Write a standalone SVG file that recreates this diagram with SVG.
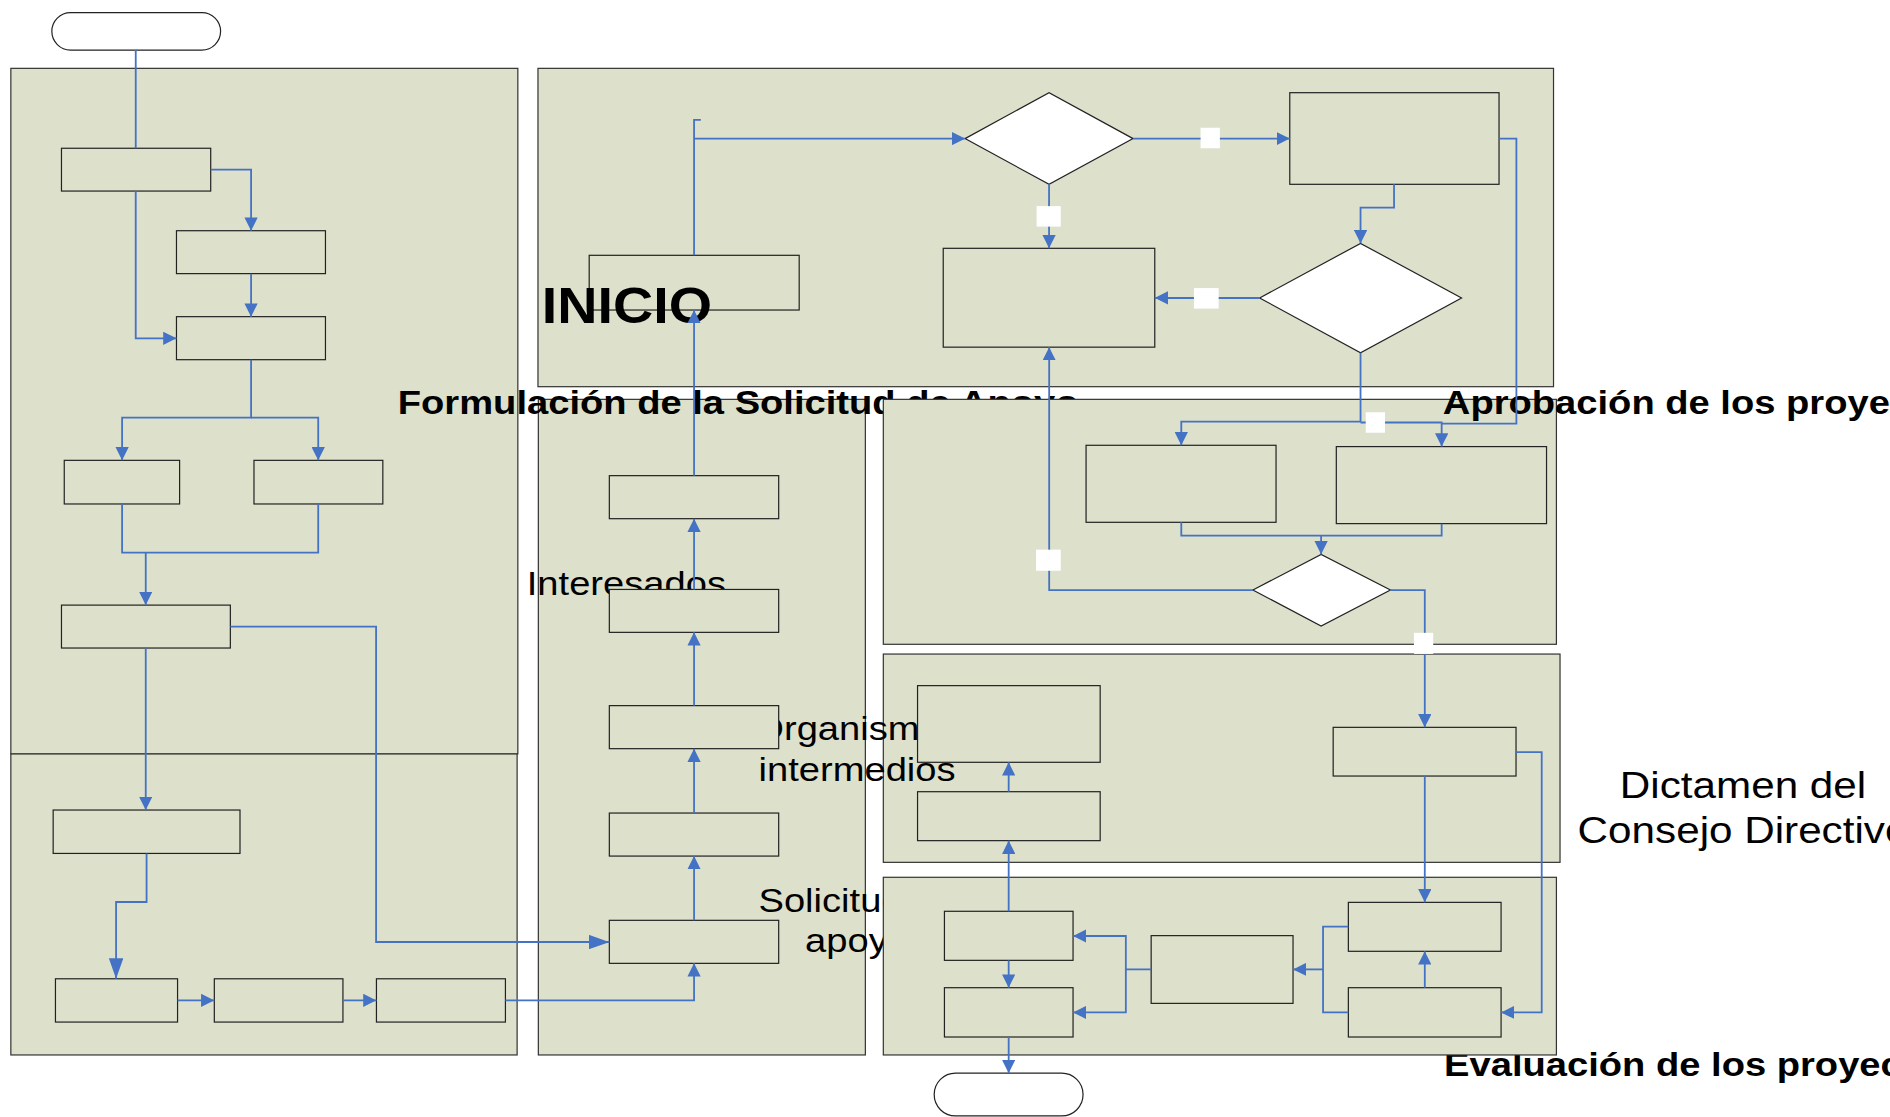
<svg xmlns="http://www.w3.org/2000/svg" width="1890" height="1117" viewBox="0 0 1890 1117">
<style>
.lane{fill:#dde1cc;stroke:#333;stroke-width:1}
.box{fill:#dde1cc;stroke:#222;stroke-width:1}
.dia{fill:#fff;stroke:#222;stroke-width:1}
.term{fill:#fff;stroke:#222;stroke-width:1}
.c{fill:none;stroke:#4472c4;stroke-width:1.5;marker-end:url(#a)}
.cb{fill:none;stroke:#4472c4;stroke-width:1.5;marker-end:url(#A)}
.cn{fill:none;stroke:#4472c4;stroke-width:1.5}
.lbl{fill:#fff}
.tb{font-family:"Liberation Sans",Arial,sans-serif;font-weight:bold;font-size:28px;fill:#000}
.tr{font-family:"Liberation Sans",Arial,sans-serif;font-size:28px;fill:#000}
</style>
<defs>
<marker id="a" markerUnits="userSpaceOnUse" viewBox="0 0 11 11" markerWidth="11" markerHeight="11" refX="11" refY="5.5" orient="auto"><path d="M0,0 L11,5.5 L0,11 z" fill="#4472c4"/></marker>
<marker id="A" markerUnits="userSpaceOnUse" viewBox="0 0 17 12" markerWidth="17" markerHeight="12" refX="17" refY="6" orient="auto"><path d="M0,0 L17,6 L0,12 z" fill="#4472c4"/></marker>
</defs>
<rect width="1890" height="1117" fill="#fff"/>
<g transform="scale(1.2054)">
<g id="lanes1">
<rect id="lane-left-top" class="lane" x="9" y="56.7" width="420.6" height="568.8"/>
<rect id="lane-left-bottom" class="lane" x="9" y="625.5" width="420" height="249.7"/>
<rect id="lane-top" class="lane" x="446.3" y="56.7" width="842.5" height="264.1"/>
<rect id="lane-middle" class="lane" x="446.6" y="331.3" width="271.3" height="543.9"/>
</g>
<text class="tb" transform="translate(330,343.5) scale(1.13,1)">Formulación de la Solicitud de Apoyo</text>
<g id="lanes2">
<rect id="lane-aprobacion" class="lane" x="732.8" y="331.3" width="558.4" height="203.2"/>
<rect id="lane-dictamen" class="lane" x="732.8" y="542.6" width="561.4" height="172.8"/>
</g>
<text class="tr" text-anchor="middle" transform="translate(711,614) scale(1.13,1)"><tspan x="0" y="0">Organismos</tspan><tspan x="0" y="33.7">intermedios</tspan></text>
<text class="tb" transform="translate(1197,343.5) scale(1.13,1)">Aprobación de los proyectos</text>
<text class="tr" text-anchor="middle" transform="translate(711,756.3) scale(1.13,1)"><tspan x="0" y="0">Solicitud de</tspan><tspan x="0" y="33.2">apoyo</tspan></text>
<text class="tb" transform="translate(1198,892.6) scale(1.13,1)">Evaluación de los proyectos</text>
<g id="lanes3">
<rect id="lane-evaluacion" class="lane" x="732.8" y="727.8" width="558.4" height="147.4"/>
</g>
<text class="tr" transform="translate(437,493.6) scale(1.13,1)">Interesados</text>
<text class="tr" text-anchor="middle" style="font-size:31px" transform="translate(1446,662) scale(1.13,1)"><tspan x="0" y="0">Dictamen del</tspan><tspan x="0" y="37">Consejo Directivo</tspan></text>
<g id="nodes">
<g id="start"><rect class="term" x="43" y="10.5" width="140" height="31" rx="15.5"/></g>
<g id="n-a"><rect class="box" x="51" y="123" width="123.8" height="35.5"/></g>
<g id="n-b"><rect class="box" x="146.4" y="191.4" width="123.6" height="35.6"/></g>
<g id="n-c"><rect class="box" x="146.4" y="262.7" width="123.6" height="35.7"/></g>
<g id="n-d"><rect class="box" x="53.3" y="381.9" width="95.7" height="36.2"/></g>
<g id="n-e"><rect class="box" x="210.7" y="381.9" width="106.9" height="36.2"/></g>
<g id="n-f"><rect class="box" x="51" y="502" width="140.1" height="35.6"/></g>
<g id="n-g"><rect class="box" x="44.1" y="672" width="155" height="36"/></g>
<g id="n-h"><rect class="box" x="46" y="812" width="101.3" height="35.9"/></g>
<g id="n-i"><rect class="box" x="177.8" y="812" width="106.7" height="35.9"/></g>
<g id="n-j"><rect class="box" x="312.3" y="812" width="107" height="35.9"/></g>
<g id="n-k"><rect class="box" x="505.5" y="763.5" width="140.5" height="35.7"/></g>
<g id="n-l"><rect class="box" x="505.5" y="674.5" width="140.5" height="35.7"/></g>
<g id="n-m"><rect class="box" x="505.5" y="585.4" width="140.5" height="35.7"/></g>
<g id="n-n"><rect class="box" x="505.5" y="489" width="140.5" height="35.6"/></g>
<g id="n-o"><rect class="box" x="505.5" y="394.6" width="140.5" height="35.7"/></g>
<g id="n-p"><rect class="box" x="488.8" y="211.8" width="174.2" height="45.4"/></g>
<g id="d-1"><polygon class="dia" points="800.6,115 870.3,76.9 940,115 870.3,152.9"/></g>
<g id="n-r"><rect class="box" x="1070" y="76.9" width="173.6" height="76"/></g>
<g id="n-s"><rect class="box" x="782.5" y="206" width="175.5" height="82"/></g>
<g id="d-2"><polygon class="dia" points="1045,247.2 1128.7,201.9 1212.5,247.2 1128.7,292.6"/></g>
<g id="n-t"><rect class="box" x="901" y="369.4" width="157.6" height="63.9"/></g>
<g id="n-u"><rect class="box" x="1108.6" y="370.5" width="174.4" height="63.9"/></g>
<g id="d-3"><polygon class="dia" points="1039.4,489.5 1096,459.9 1153.5,489.5 1096,519.3"/></g>
<g id="n-v"><rect class="box" x="761.2" y="568.8" width="151.5" height="63.6"/></g>
<g id="n-w"><rect class="box" x="761.2" y="656.8" width="151.5" height="40.6"/></g>
<g id="n-x"><rect class="box" x="1106" y="603.4" width="151.7" height="40.4"/></g>
<g id="n-y1"><rect class="box" x="783.5" y="756" width="106.7" height="40.7"/></g>
<g id="n-y2"><rect class="box" x="783.5" y="819.4" width="106.7" height="40.9"/></g>
<g id="n-z"><rect class="box" x="955" y="776.2" width="117.7" height="56.2"/></g>
<g id="n-aa"><rect class="box" x="1118.6" y="748.6" width="126.7" height="40.6"/></g>
<g id="n-ab"><rect class="box" x="1118.6" y="819.4" width="126.7" height="40.9"/></g>
<g id="end"><rect class="term" x="775" y="890.3" width="123.5" height="35.5" rx="17.7"/></g>
</g>
<text class="tb" style="font-size:42px" transform="translate(449.5,268.2) scale(1.1,1)">INICIO</text>
<g id="connectors">
<path class="cn" d="M112.6,41.5 V123"/>
<path class="c" d="M174.8,140.8 H208.3 V191.4"/>
<path class="c" d="M208.3,227 V262.7"/>
<path class="c" d="M112.6,158.5 V280.7 H146.4"/>
<path class="c" d="M208.3,298.4 V346.5 H101.3 V381.9"/>
<path class="c" d="M208.3,346.5 H264 V381.9"/>
<path class="cn" d="M101.3,418.1 V458.5 H264 V418.1"/>
<path class="c" d="M120.9,458.5 V502"/>
<path class="c" d="M120.9,537.6 V672"/>
<path class="cb" d="M191.1,519.9 H312 V781.5 H505.5"/>
<path class="cb" d="M121.6,708 V748.3 H96.3 V812"/>
<path class="c" d="M147.3,829.9 H177.8"/>
<path class="c" d="M284.5,829.9 H312.3"/>
<path class="c" d="M419.3,829.9 H575.8 V799.2"/>
<path class="c" d="M575.8,763.5 V710.2"/>
<path class="c" d="M575.8,674.5 V621.1"/>
<path class="c" d="M575.8,585.4 V524.6"/>
<path class="c" d="M575.8,489 V430.3"/>
<path class="c" d="M575.8,394.6 V257.2"/>
<path class="cn" d="M575.8,211.8 V99.5 H581.4"/>
<path class="c" d="M575.8,115 H800.6"/>
<path class="c" d="M940,115 H1070"/>
<path class="c" d="M870.3,152.9 V206"/>
<path class="c" d="M1156.5,152.9 V172.3 H1128.7 V201.9"/>
<path class="c" d="M1045,247.2 H958"/>
<path class="c" d="M1128.7,292.6 V349.8 H980 V369.4"/>
<path class="c" d="M1128.7,350.5 H1196 V370.5"/>
<path class="cn" d="M1243.6,115 H1258 V351.5 H1196"/>
<path class="cn" d="M980,433.3 V444.4 H1196 V434.4"/>
<path class="c" d="M1096,444.4 V459.9"/>
<path class="c" d="M1039.4,489.5 H870.4 V288"/>
<path class="c" d="M1153.5,489.5 H1182 V603.4"/>
<path class="c" d="M1182,643.8 V748.6"/>
<path class="c" d="M1257.7,624 H1279 V839.9 H1245.3"/>
<path class="c" d="M1182,819.4 V789.2"/>
<path class="cn" d="M1118.6,768.8 H1097.6 V839.9 H1118.6"/>
<path class="c" d="M1097.6,804.2 H1072.7"/>
<path class="c" d="M955,804.2 H934 V776.5 H890.2"/>
<path class="c" d="M934,804.2 V839.9 H890.2"/>
<path class="c" d="M836.8,756 V697.4"/>
<path class="c" d="M836.8,656.8 V632.4"/>
<path class="c" d="M836.8,796.7 V819.4"/>
<path class="c" d="M836.8,860.3 V890.3"/>
<rect class="lbl" x="996" y="106" width="16" height="17"/>
<rect class="lbl" x="860" y="171" width="20" height="17"/>
<rect class="lbl" x="990.5" y="239" width="20.5" height="17"/>
<rect class="lbl" x="1133" y="342" width="16" height="17"/>
<rect class="lbl" x="859.5" y="456" width="20.5" height="17.5"/>
<rect class="lbl" x="1173" y="525" width="16" height="17.5"/>
</g>
</g>
</svg>
